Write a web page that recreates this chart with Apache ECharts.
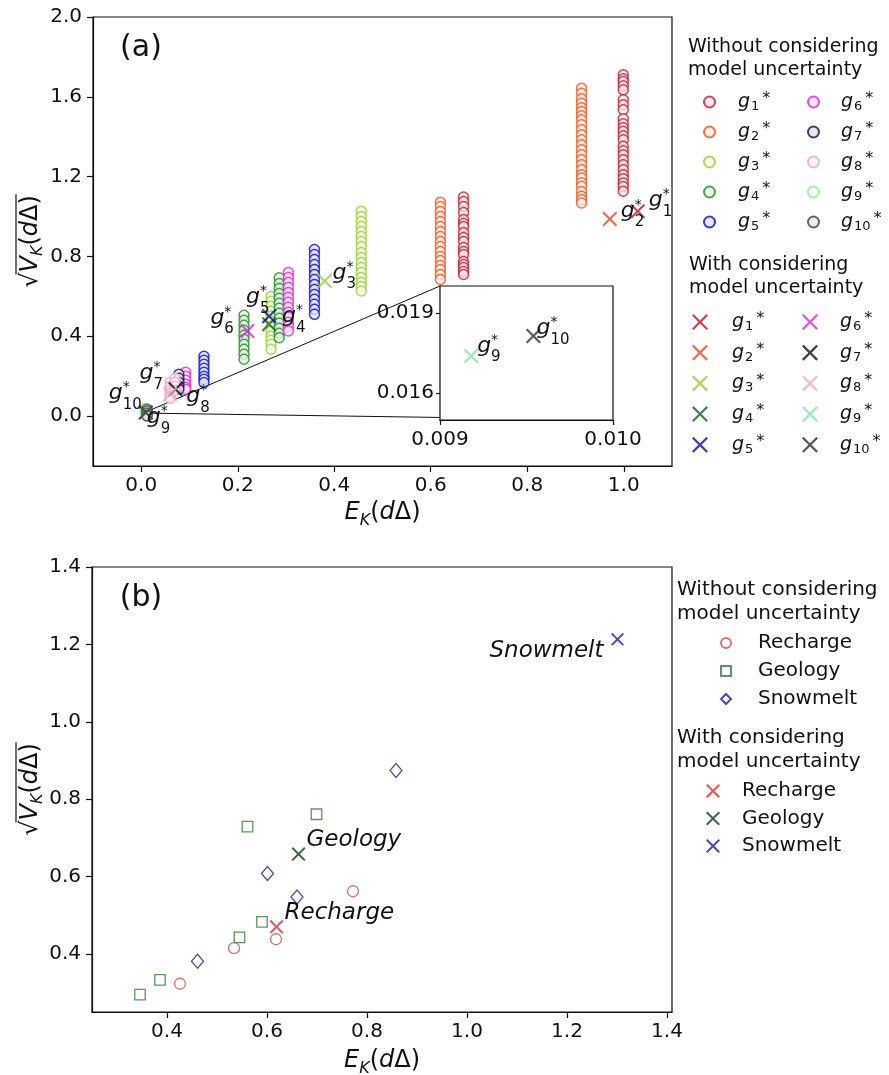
<!DOCTYPE html>
<html><head><meta charset="utf-8">
<script src="https://cdn.jsdelivr.net/npm/echarts@6.0.0/dist/echarts.min.js"></script>
<style>html,body{margin:0;padding:0;background:#fff;}#chart{width:889px;height:1075px;}</style>
</head><body><div id="chart"></div>
<script>
// ================= Panel (a) data =================
// Without considering model uncertainty: each g has one or more columns (x) of values (y)
const g1X = [0.668, 0.999];
const g1Y = [
  [1.098, 1.075, 1.05, 1.02, 0.985, 0.965, 0.95, 0.92, 0.895, 0.875, 0.845, 0.825, 0.81, 0.775, 0.76, 0.745, 0.725, 0.71],
  [1.71, 1.69, 1.677, 1.655, 1.635, 1.585, 1.56, 1.535, 1.49, 1.465, 1.445, 1.427, 1.405, 1.385, 1.352, 1.33, 1.31, 1.285, 1.26, 1.235, 1.21, 1.19, 1.168, 1.15, 1.127]
];
const g2X = [0.62, 0.9125];
const g2Y = [
  [1.072, 1.05, 1.025, 1.0, 0.975, 0.95, 0.925, 0.9, 0.875, 0.85, 0.825, 0.8, 0.78, 0.755, 0.735, 0.71, 0.685],
  [1.643, 1.618, 1.59, 1.568, 1.545, 1.527, 1.505, 1.485, 1.46, 1.435, 1.41, 1.385, 1.36, 1.335, 1.31, 1.285, 1.26, 1.235, 1.21, 1.193, 1.17, 1.152, 1.125, 1.102, 1.085, 1.068]
];
const g3X = [0.456, 0.269];
const g3Y = [
  [1.027, 1.0, 0.975, 0.95, 0.925, 0.9, 0.875, 0.85, 0.82, 0.795, 0.77, 0.745, 0.72, 0.695, 0.67, 0.65, 0.627],
  [0.6, 0.575, 0.55, 0.525, 0.5, 0.475, 0.45, 0.425, 0.4, 0.38, 0.36, 0.335]
];
const g4X = [0.213, 0.286];
const g4Y = [
  [0.505, 0.48, 0.455, 0.43, 0.405, 0.385, 0.36, 0.335, 0.31, 0.285],
  [0.693, 0.665, 0.64, 0.615, 0.59, 0.565, 0.54, 0.515, 0.49, 0.465, 0.44, 0.415, 0.393]
];
const g5X = [0.359, 0.13];
const g5Y = [
  [0.835, 0.81, 0.785, 0.76, 0.735, 0.71, 0.685, 0.66, 0.635, 0.61, 0.585, 0.56, 0.535, 0.51],
  [0.3, 0.28, 0.26, 0.24, 0.22, 0.2, 0.185, 0.168]
];
const g6X = [0.305, 0.092];
const g6Y = [
  [0.72, 0.695, 0.67, 0.645, 0.62, 0.595, 0.57, 0.545, 0.52, 0.495, 0.47, 0.45, 0.427],
  [0.22, 0.2, 0.18, 0.16, 0.145, 0.135]
];
const g7X = [0.078];
const g7Y = [[0.21, 0.19, 0.17, 0.15, 0.135]];
const g8X = [0.06, 0.07];
const g8Y = [[0.17, 0.15, 0.13, 0.115, 0.1, 0.09], [0.19, 0.17, 0.15, 0.13]];
const g9X = [0.008];
const g9Y = [[0.04, 0.03, 0.02, 0.01]];
const g10X = [0.012];
const g10Y = [[0.035, 0.025, 0.015, 0.005, 0.0]];

// With considering model uncertainty (g1* .. g10*)
const gStarX = [1.029, 0.971, 0.38, 0.265, 0.265, 0.22, 0.071, 0.06, 0.00918, 0.00954];
const gStarY = [1.027, 0.988, 0.677, 0.46, 0.50, 0.427, 0.135, 0.11, 0.01739, 0.01813];
const gSub = ['1', '2', '3', '4', '5', '6', '7', '8', '9', '10'];

// Inset (zoom of g9*, g10*)
const insetSub = ['9', '10'];
const insetX = [0.00918, 0.00954];
const insetY = [0.01739, 0.01813];

const aXTicks = [0, 0.2, 0.4, 0.6, 0.8, 1.0];
const aYTicks = [0, 0.4, 0.8, 1.2, 1.6, 2.0];
const insetXTicks = [0.009, 0.010];
const insetYTicks = [0.016, 0.019];

// ================= Panel (b) data =================
const rechargeX = [0.426, 0.534, 0.618, 0.772];
const rechargeY = [0.323, 0.415, 0.438, 0.562];
const geologyX = [0.346, 0.386, 0.545, 0.59, 0.561, 0.699];
const geologyY = [0.295, 0.333, 0.443, 0.483, 0.729, 0.761];
const snowmeltX = [0.461, 0.601, 0.66, 0.858];
const snowmeltY = [0.381, 0.608, 0.547, 0.874];
const bCats = ['Recharge', 'Geology', 'Snowmelt'];
const bStarX = [0.619, 0.663, 1.301];
const bStarY = [0.47, 0.658, 1.213];
const bXTicks = [0.4, 0.6, 0.8, 1.0, 1.2, 1.4];
const bYTicks = [0.4, 0.6, 0.8, 1.0, 1.2, 1.4];

// ================= styles =================
const FONT = 'DejaVu Sans';
const INK = '#111';
const circleCol = ['#c41a32', '#f0521a', '#9acd32', '#228b22', '#0a0acc', '#e020e0', '#101050', '#f2a2c2', '#90ee90', '#404040'];
const crossCol  = ['#c8142a', '#ec4a1e', '#9acd32', '#17661f', '#10109a', '#e020e0', '#0a0a20', '#eeaac4', '#80e8a0', '#303030'];
const X_PATH = 'path://M0,1L1,0L5,4L9,0L10,1L6,5L10,9L9,10L5,6L1,10L0,9L4,5Z';

function tint(hex, a) {
  const n = parseInt(hex.slice(1), 16);
  const r = (n >> 16) & 255, g = (n >> 8) & 255, b = n & 255;
  const m = c => Math.round(c * a + 255 * (1 - a));
  return 'rgb(' + m(r) + ',' + m(g) + ',' + m(b) + ')';
}

const groupX = [g1X, g2X, g3X, g4X, g5X, g6X, g7X, g8X, g9X, g10X];
const groupY = [g1Y, g2Y, g3Y, g4Y, g5Y, g6Y, g7Y, g8Y, g9Y, g10Y];

// label offsets (styling only) for g* annotations: [dx, dy]
const starLabelOff = [[11, -8], [11, -5], [8, -5], [13, -5], [-23, -16], [-37, -10], [-36, -13], [16, 5], [1, 8], [-37, -16]];
const insetLabelOff = [[6, -7], [3, -5]];

const NOBORDER = {textBorderWidth: 0, textBorderColor: 'transparent', textShadowBlur: 0, opacity: 1};
const richA = {
  g:  Object.assign({fontFamily: FONT, fontStyle: 'italic', fontSize: 22, lineHeight: 26, padding: [0, 0, 6, 0], color: INK}, NOBORDER),
  st: Object.assign({fontFamily: FONT, fontSize: 14, lineHeight: 14, padding: [0, 0, 18, 0], width: 0, color: INK}, NOBORDER),
  sb: Object.assign({fontFamily: FONT, fontSize: 15, lineHeight: 15, padding: [17, 0, 0, 0], color: INK}, NOBORDER)
};
function richLegend(sp, size) {
  return {
    sp: {width: sp, fontSize: 10},
    g:  {fontFamily: FONT, fontStyle: 'italic', fontSize: size, lineHeight: 22, color: INK},
    sb: {fontFamily: FONT, fontSize: 13, lineHeight: 13, padding: [9, 0, 0, 1], color: INK},
    st: {fontFamily: FONT, fontSize: 16, lineHeight: 16, padding: [0, 0, 6, 3], color: INK},
    t:  {fontFamily: FONT, fontSize: size, lineHeight: 22, color: INK}
  };
}

const series = [];
// circles, panel (a)
groupX.forEach((xs, i) => {
  const data = [];
  xs.forEach((x, j) => groupY[i][j].forEach(y => data.push([x, y])));
  series.push({
    type: 'scatter', name: 'c' + (i + 1), xAxisIndex: 0, yAxisIndex: 0, data,
    symbol: 'circle', symbolSize: 10, silent: true, z: 2,
    itemStyle: {color: tint(circleCol[i], 0.12), borderColor: circleCol[i], borderWidth: 1.5}
  });
});
// crosses, panel (a)
gStarX.forEach((x, i) => {
  series.push({
    type: 'scatter', name: 'x' + (i + 1), xAxisIndex: 0, yAxisIndex: 0,
    data: [[x, gStarY[i]]], symbol: X_PATH, symbolSize: 15, silent: true, z: 3,
    itemStyle: {color: crossCol[i]},
    label: Object.assign({show: true, position: ['50%', '50%'], align: 'left', verticalAlign: 'middle', color: INK,
      offset: starLabelOff[i], formatter: '{g|g}{st|*}{sb|' + gSub[i] + '}', rich: richA}, NOBORDER)
  });
});
// inset crosses
insetX.forEach((x, i) => {
  series.push({
    type: 'scatter', name: 'inset' + i, xAxisIndex: 1, yAxisIndex: 1,
    data: [[x, insetY[i]]], symbol: X_PATH, symbolSize: 15, silent: true, z: 5,
    itemStyle: {color: crossCol[8 + i]},
    label: Object.assign({show: true, position: ['50%', '50%'], align: 'left', verticalAlign: 'middle', color: INK,
      offset: insetLabelOff[i], formatter: '{g|g}{st|*}{sb|' + insetSub[i] + '}', rich: richA}, NOBORDER)
  });
});
// panel (b)
const bSymbols = ['circle', 'rect', 'diamond'];
const bSizes = [11, 10.5, [12, 14]];
const bCols = ['#c8504a', '#2f7f35', '#1e1e8a'];
const bXs = [rechargeX, geologyX, snowmeltX];
const bYs = [rechargeY, geologyY, snowmeltY];
bCats.forEach((c, i) => {
  series.push({
    type: 'scatter', name: c + '-o', xAxisIndex: 2, yAxisIndex: 2,
    data: bXs[i].map((x, j) => [x, bYs[i][j]]), symbol: bSymbols[i], symbolSize: bSizes[i], silent: true,
    itemStyle: {color: '#fff', borderColor: bCols[i], borderWidth: 1.3}
  });
});
const bCrossCol = ['#e3262b', '#0d3b1e', '#1b1bb0'];
const bLabel = [
  {position: ['50%', '50%'], align: 'left', offset: [8, -14]},
  {position: ['50%', '50%'], align: 'left', offset: [8, -14]},
  {position: ['50%', '50%'], align: 'right', offset: [-14, 12]}
];
bCats.forEach((c, i) => {
  series.push({
    type: 'scatter', name: c + '-x', xAxisIndex: 2, yAxisIndex: 2, z: 3,
    data: [[bStarX[i], bStarY[i]]], symbol: X_PATH, symbolSize: i === 2 ? 13 : 14, silent: true,
    itemStyle: {color: bCrossCol[i]},
    label: Object.assign({show: true, verticalAlign: 'middle', formatter: c,
      fontFamily: FONT, fontStyle: 'italic', fontSize: 23, color: INK}, NOBORDER, bLabel[i])
  });
});

function axis(gridIndex, min, max, ticks, digits, margin, tickLen) {
  return {
    type: 'value', gridIndex, min, max, scale: false,
    axisLine: {show: true, onZero: false, lineStyle: {color: INK, width: 1.2}},
    axisTick: {show: true, inside: false, length: tickLen, lineStyle: {color: INK, width: 1.2}, customValues: ticks},
    axisLabel: {show: true, customValues: ticks, formatter: v => v.toFixed(digits),
      fontFamily: FONT, fontSize: 20, color: INK, margin},
    splitLine: {show: false}
  };
}
const nameRich = {
  e: {fontFamily: FONT, fontStyle: 'italic', fontSize: 24, lineHeight: 24, padding: [0, 0, 6, 0], color: INK},
  k: {fontFamily: FONT, fontStyle: 'italic', fontSize: 16, lineHeight: 16, padding: [12, 0, 2, 0], color: INK},
  n: {fontFamily: FONT, fontSize: 24, lineHeight: 24, padding: [0, 0, 6, 0], color: INK}
};
const xName = '{e|E}{k|K}{n|(}{e|d}{n|Δ)}';

const xA = axis(0, -0.1, 1.1, aXTicks, 1, 10, 6);
Object.assign(xA, {position: 'bottom', name: xName, nameLocation: 'middle', nameGap: 38, nameTextStyle: {rich: nameRich}});
const yA = axis(0, -0.25, 2.0, aYTicks, 1, 11, 6);
yA.position = 'left';
const xI = axis(1, 0.009, 0.010, insetXTicks, 3, 10, 5);
xI.position = 'bottom';
const yI = axis(1, 0.015, 0.020, insetYTicks, 3, 6, 4);
yI.position = 'left';
const xB = axis(2, 0.25, 1.41, bXTicks, 1, 10, 6);
Object.assign(xB, {position: 'bottom', name: xName, nameLocation: 'middle', nameGap: 40, nameTextStyle: {rich: nameRich}});
const yB = axis(2, 0.25, 1.4, bYTicks, 1, 11, 6);
yB.position = 'left';

function legendA(left, top, names, iw, sp, gap) {
  return {
    show: true, orient: 'vertical', left, top, padding: 0, itemGap: gap, itemWidth: iw, itemHeight: iw,
    selectedMode: false, data: names, align: 'left',
    formatter: n => '{sp| }{g|g}{sb|' + n.slice(1) + '}{st|*}',
    textStyle: {fontFamily: FONT, fontSize: 19, color: INK, rich: richLegend(sp, 19)}
  };
}
function legendB(left, top, names, iw, sp, gap) {
  return {
    show: true, orient: 'vertical', left, top, padding: 0, itemGap: gap, itemWidth: iw, itemHeight: iw,
    selectedMode: false, data: names, align: 'left',
    formatter: n => '{sp| }{t|' + n.split('-')[0] + '}',
    textStyle: {fontFamily: FONT, fontSize: 20, color: INK, rich: richLegend(sp, 20)}
  };
}

const chart = echarts.init(document.getElementById('chart'), null, {renderer: 'canvas'});
chart.setOption({
  animation: false,
  backgroundColor: '#fff',
  grid: [
    {left: 93, top: 17, width: 579, height: 449, show: true, borderColor: INK, borderWidth: 1.2, backgroundColor: 'transparent', containLabel: false, outerBoundsMode: 'none'},
    {left: 440, top: 286, width: 173, height: 134, show: true, borderColor: INK, borderWidth: 1.2, backgroundColor: '#fff', containLabel: false, outerBoundsMode: 'none', z: 3},
    {left: 92, top: 567, width: 580, height: 445, show: true, borderColor: INK, borderWidth: 1.2, backgroundColor: 'transparent', containLabel: false, outerBoundsMode: 'none'}
  ],
  xAxis: [xA, xI, xB],
  yAxis: [yA, yI, yB],
  legend: [
    legendA(703, 91, ['c1', 'c2', 'c3', 'c4', 'c5'], 11, 18, 8),
    legendA(807, 91, ['c6', 'c7', 'c8', 'c9', 'c10'], 11, 17, 8),
    legendA(692, 311, ['x1', 'x2', 'x3', 'x4', 'x5'], 16, 19, 8.7),
    legendA(802, 311, ['x6', 'x7', 'x8', 'x9', 'x10'], 16, 17, 8.7),
    legendB(720, 633, bCats.map(c => c + '-o'), 10, 22, 8),
    legendB(706, 781, bCats.map(c => c + '-x'), 14, 17, 7.5)
  ],
  tooltip: {show: false},
  series
});

// ---------- text decorations, axis titles and inset connector lines ----------
const mctx = document.createElement('canvas').getContext('2d');
function tw(t, s, it) { mctx.font = (it ? 'italic ' : '') + s + 'px "DejaVu Sans"'; return mctx.measureText(t).width; }
function yNameGroup(id, cx, cy) {
  const toks = [{t: '√', s: 24}, {t: 'V', s: 24, i: 1}, {t: 'K', s: 16, i: 1, dy: 7}, {t: '(', s: 24}, {t: 'd', s: 24, i: 1}, {t: 'Δ', s: 24}, {t: ')', s: 24}];
  let total = 0;
  toks.forEach(k => { k.w = tw(k.t, k.s, k.i); total += k.w; });
  let x = -total / 2, ol = 0;
  const children = [];
  toks.forEach((k, idx) => {
    if (idx === 1) ol = x;
    children.push({type: 'text', x: x, y: k.dy || 0, style: {text: k.t, fontSize: k.s, fontStyle: k.i ? 'italic' : 'normal', fontFamily: FONT, fill: INK, align: 'left', verticalAlign: 'middle'}});
    x += k.w;
  });
  children.push({type: 'line', shape: {x1: ol - 2, y1: -15, x2: x + 1, y2: -15}, style: {stroke: INK, lineWidth: 1.2}});
  return {type: 'group', id, x: cx, y: cy, rotation: Math.PI / 2, children};
}
function txt(id, x, y, text, size, opts) {
  return {type: 'text', id, x, y, z: 10, style: Object.assign({text, fontSize: size, fontFamily: FONT, fill: INK, align: 'left', verticalAlign: 'top'}, opts || {})};
}
const m1 = chart.convertToPixel({xAxisIndex: 0, yAxisIndex: 0}, [0.009, 0.020]);
const i1 = chart.convertToPixel({xAxisIndex: 1, yAxisIndex: 1}, [0.009, 0.020]);
const m2 = chart.convertToPixel({xAxisIndex: 0, yAxisIndex: 0}, [0.010, 0.015]);
const i2 = chart.convertToPixel({xAxisIndex: 1, yAxisIndex: 1}, [0.010, 0.015]);

chart.setOption({
  graphic: [
    txt('pa', 141, 48, '(a)', 30, {align: 'center', verticalAlign: 'middle'}),
    txt('pb', 141, 598, '(b)', 30, {align: 'center', verticalAlign: 'middle'}),
    txt('ta1', 688, 35.5, 'Without considering\nmodel uncertainty', 19, {lineHeight: 23}),
    txt('ta2', 689, 253.5, 'With considering\nmodel uncertainty', 19, {lineHeight: 23}),
    txt('tb1', 677, 578, 'Without considering\nmodel uncertainty', 20, {lineHeight: 24}),
    txt('tb2', 677, 726, 'With considering\nmodel uncertainty', 20, {lineHeight: 24}),
    yNameGroup('ya', 31, 241.5),
    yNameGroup('yb', 31, 789.5),
    {type: 'line', id: 'c1', z: 1, shape: {x1: m1[0], y1: m1[1], x2: i1[0], y2: i1[1]}, style: {stroke: INK, lineWidth: 1}},
    {type: 'line', id: 'c2', z: 1, shape: {x1: m2[0], y1: m2[1], x2: i2[0], y2: i2[1]}, style: {stroke: INK, lineWidth: 1}},
    {type: 'rect', id: 'rg', z: 1, shape: {x: m1[0], y: m1[1], width: m2[0] - m1[0], height: m2[1] - m1[1]}, style: {stroke: INK, fill: 'none', lineWidth: 0.8}}
  ]
});
</script>
</body></html>
